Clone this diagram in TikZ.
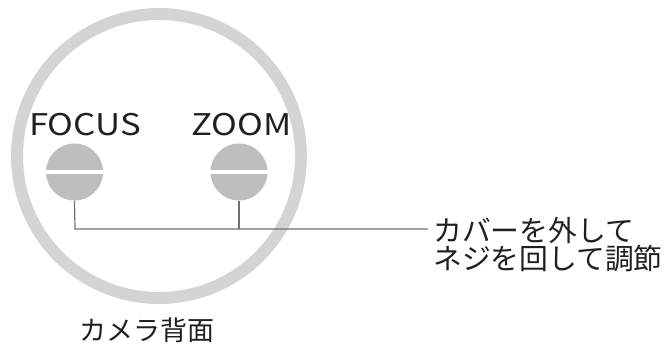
\documentclass[tikz,border=0pt]{standalone}
\usepackage{fontspec}
\setmainfont{Noto Sans CJK JP}
\definecolor{ringgray}{HTML}{D4D4D4}
\definecolor{knobgray}{HTML}{BEBEBE}
\definecolor{linegray}{HTML}{707070}
\definecolor{txt}{HTML}{231F20}
\begin{document}
\begin{tikzpicture}[x=1pt,y=-1pt,
  knob/.style={circle,fill=knobgray,minimum size=57pt,inner sep=0pt},
  lbl/.style={inner sep=0pt,text=txt,font=\fontsize{29}{29}\selectfont},
  leader/.style={draw=linegray,line width=1.2pt}]
\useasboundingbox (0,0) rectangle (666,349);
\node[circle,draw=ringgray,line width=12pt,minimum size=284pt,inner sep=0pt] (ring) at (159,156) {};
\node[knob] (focus) at (74.5,172) {};
\node[knob] (zoom) at (239,172) {};
\fill[white] ([yshift=-2pt]focus.west) rectangle ([yshift=2pt]focus.east);
\fill[white] ([yshift=-2pt]zoom.west) rectangle ([yshift=2pt]zoom.east);
\node[lbl,anchor=base] (tfocus) at (85,135) {\scalebox{1.2}[1.03]{FOCUS}};
\node[lbl,anchor=base] (tzoom) at (241.5,135) {\scalebox{1.2}[1.03]{ZOOM}};
\coordinate (c1) at (75,229);
\coordinate (c2) at (239,229);
\node[lbl,anchor=north west,align=left,font=\fontsize{28.8}{25.5}\selectfont] (note) at (433,217) {カバーを外して\\ネジを回して調節};
\coordinate (c3) at (428,229);
\draw[leader] (focus.south) -- (c1) -- (c3);
\draw[leader] (zoom.south) -- (c2);
\node[lbl,anchor=north,font=\fontsize{27}{27}\selectfont] (title) at (147,318) {カメラ背面};
\end{tikzpicture}
\end{document}
